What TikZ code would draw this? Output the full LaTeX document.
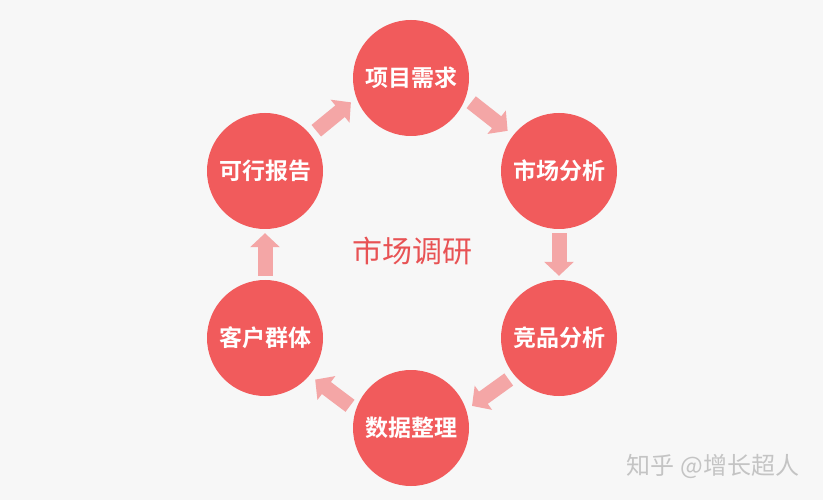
\documentclass[tikz,border=0pt]{standalone}
\usepackage{fontspec}
\newfontfamily\cjk{Noto Sans CJK SC}
\newfontfamily\cjkbold{Noto Sans CJK SC Bold}
\usepackage{tikz}
\usetikzlibrary{arrows.meta}
\definecolor{bgcol}{RGB}{247,247,247}
\definecolor{ballred}{RGB}{241,91,92}
\definecolor{arrowpink}{RGB}{244,166,166}
\definecolor{titlered}{RGB}{232,82,84}
\definecolor{markgray}{RGB}{196,196,196}

\begin{document}
\begin{tikzpicture}[x=1pt,y=-1pt,
	ball/.style={circle, fill=ballred, minimum size=116pt, inner sep=0pt, text=white, font=\cjkbold\fontsize{23}{26}\selectfont},
	flow/.style={draw=arrowpink, line width=15pt, -{Triangle[width=29pt,length=14pt]}, shorten <=7pt, shorten >=7pt}]
	\useasboundingbox [fill=bgcol] (0,0) rectangle (823,500);
	%\draw [help lines, step=50] (0,0) grid (823,500);
	\node [ball] (xq) at (411,78) {项目需求};
	\node [ball] (sc) at (559,171) {市场分析};
	\node [ball] (jp) at (559,338) {竞品分析};
	\node [ball] (sj) at (411,428) {数据整理};
	\node [ball] (kh) at (265,338) {客户群体};
	\node [ball] (kx) at (265,171) {可行报告};
	\node [text=titlered, font=\cjk\fontsize{30}{34}\selectfont] (title) at (412,251) {市场调研};
	\node [text=markgray, font=\cjk\fontsize{24}{27}\selectfont] (mark) at (713,466) {知乎 @增长超人};
	\draw [flow] (kx.38) -- (xq.200);
	\draw [flow] (xq.-20) -- (sc.142);
	\draw [flow, shorten <=4pt, shorten >=4pt] (sc.-90) -- (jp.90);
	\draw [flow] (jp.220) -- (sj.18);
	\draw [flow] (sj.162) -- (kh.-40);
	\draw [flow, shorten <=4pt, shorten >=4pt] (kh.90) -- (kx.-90);
\end{tikzpicture}
\end{document}
